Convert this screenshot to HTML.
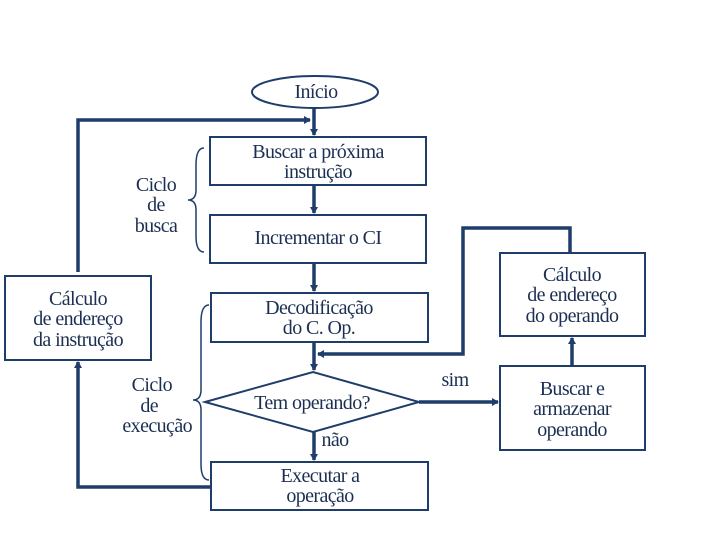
<!DOCTYPE html>
<html><head><meta charset="utf-8"><style>
html,body{margin:0;padding:0;background:#fff;}
svg{display:block;}
text{font-family:"Liberation Serif",serif;font-size:20px;fill:#1c2f52;letter-spacing:-0.6px;}
</style></head><body>
<svg width="720" height="540" viewBox="0 0 720 540" xmlns="http://www.w3.org/2000/svg">
<defs>
<marker id="a" markerWidth="8" markerHeight="8" refX="6" refY="4" orient="auto" markerUnits="userSpaceOnUse">
<path d="M0,0 L7,4 L0,8 z" fill="#1f3d6b"/></marker>
</defs>
<g fill="none" stroke="#1f3d6b" stroke-width="2">
<ellipse cx="315" cy="92" rx="63" ry="16"/>
<rect x="210" y="137" width="216" height="48"/>
<rect x="210" y="215" width="216" height="48"/>
<rect x="5" y="276" width="146" height="84"/>
<rect x="211" y="293" width="217" height="49"/>
<path d="M205,402 L313,372 L419,402 L313,432 Z"/>
<rect x="211" y="462" width="217" height="48"/>
<rect x="500" y="253" width="145" height="83"/>
<rect x="500" y="366" width="145" height="84"/>
<path d="M204,148 Q196,148 196,165 L196,190 Q196,200 188,200 Q196,200 196,210 L196,236 Q196,252 204,252" stroke-width="1.5"/>
<path d="M209,305 Q201,305 201,322 L201,390 Q201,400 193,400 Q201,400 201,410 L201,464 Q201,480 209,480" stroke-width="1.5"/>
</g>
<g fill="none" stroke="#1f3d6b" stroke-width="3.5">
<line x1="314" y1="108" x2="314" y2="135" marker-end="url(#a)"/>
<polyline points="78,272 78,120 310,120" marker-end="url(#a)"/>
<line x1="314" y1="185" x2="314" y2="213" marker-end="url(#a)"/>
<line x1="314" y1="263" x2="314" y2="291" marker-end="url(#a)"/>
<line x1="314" y1="342" x2="314" y2="370" marker-end="url(#a)"/>
<polyline points="570,253 570,228 463,228 463,354 318,354" marker-end="url(#a)"/>
<line x1="419" y1="402" x2="498" y2="402" marker-end="url(#a)"/>
<line x1="572" y1="366" x2="572" y2="338" marker-end="url(#a)"/>
<line x1="314" y1="432" x2="314" y2="460" marker-end="url(#a)"/>
<polyline points="211,487 78,487 78,362" marker-end="url(#a)"/>
</g>
<g text-anchor="middle">
<text x="316" y="98">Início</text>
<text x="318" y="158">Buscar a próxima</text>
<text x="318" y="178">instrução</text>
<text x="318" y="244">Incrementar o CI</text>
<text x="156" y="191">Ciclo</text>
<text x="156" y="211">de</text>
<text x="156" y="232">busca</text>
<text x="78" y="305">Cálculo</text>
<text x="78" y="325">de endereço</text>
<text x="78" y="346">da instrução</text>
<text x="319" y="314">Decodificação</text>
<text x="319" y="334">do C. Op.</text>
<text x="312" y="409">Tem operando?</text>
<text x="335" y="446">não</text>
<text x="455" y="386">sim</text>
<text x="320" y="482">Executar a</text>
<text x="320" y="502">operação</text>
<text x="572" y="281">Cálculo</text>
<text x="572" y="301">de endereço</text>
<text x="572" y="322">do operando</text>
<text x="572" y="395">Buscar e</text>
<text x="572" y="415">armazenar</text>
<text x="572" y="436">operando</text>
</g>
<g text-anchor="end">
<text x="172" y="391">Ciclo</text>
<text x="158" y="412">de</text>
<text x="192" y="432">execução</text>
</g>
</svg>
</body></html>
